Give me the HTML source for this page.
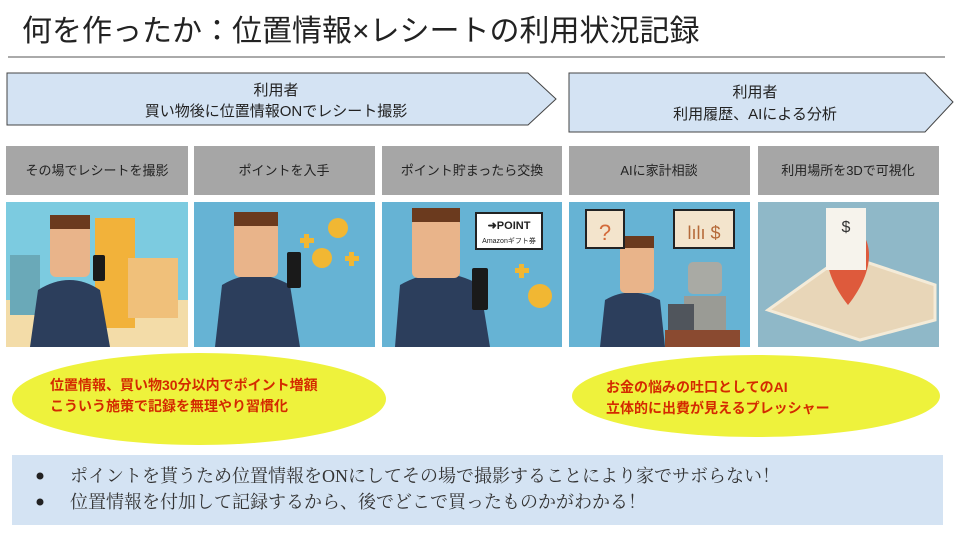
<!DOCTYPE html>
<html><head><meta charset="utf-8"><style>
body{margin:0;width:960px;height:540px;background:#fff;overflow:hidden;font-family:"Liberation Sans","Noto Sans CJK JP",sans-serif;}
</style></head><body>
<svg width="960" height="540" xmlns="http://www.w3.org/2000/svg" font-family="Liberation Sans, Noto Sans CJK JP, sans-serif">
<text x="22" y="41" font-size="30" fill="#222">何を作ったか：位置情報×レシートの利用状況記録</text>
<line x1="8" y1="57" x2="945" y2="57" stroke="#aaa" stroke-width="2"/>
<polygon points="7,73 528,73 556,99 528,125 7,125" fill="#d4e3f3" stroke="#444" stroke-width="1"/>
<text x="276" y="95" font-size="15" text-anchor="middle" fill="#222">利用者</text>
<text x="276" y="116" font-size="15" text-anchor="middle" fill="#222">買い物後に位置情報ONでレシート撮影</text>
<polygon points="569,73 925,73 953,102 925,132 569,132" fill="#d4e3f3" stroke="#444" stroke-width="1"/>
<text x="755" y="97" font-size="15" text-anchor="middle" fill="#222">利用者</text>
<text x="755" y="119" font-size="15" text-anchor="middle" fill="#222">利用履歴、AIによる分析</text>
<g fill="#a6a6a6">
<rect x="6" y="146" width="182" height="49"/><rect x="194" y="146" width="181" height="49"/><rect x="382" y="146" width="180" height="49"/><rect x="569" y="146" width="181" height="49"/><rect x="758" y="146" width="181" height="49"/></g>
<g font-size="13" fill="#222" text-anchor="middle">
<text x="97" y="175">その場でレシートを撮影</text><text x="284" y="175">ポイントを入手</text><text x="472" y="175">ポイント貯まったら交換</text><text x="659" y="175">AIに家計相談</text><text x="848" y="175">利用場所を3Dで可視化</text></g>
<rect x="6" y="202" width="182" height="145" fill="#7ccbe0"/>
<rect x="6" y="300" width="182" height="47" fill="#f3dca8"/>
<rect x="95" y="218" width="40" height="110" fill="#f2b23a"/>
<rect x="128" y="258" width="50" height="60" fill="#f0c07a"/>
<rect x="10" y="255" width="30" height="60" fill="#6aa9b8"/>
<rect x="194" y="202" width="181" height="145" fill="#66b3d4"/>
<rect x="382" y="202" width="180" height="145" fill="#66b3d4"/>
<rect x="569" y="202" width="181" height="145" fill="#66b3d4"/>
<rect x="758" y="202" width="181" height="145" fill="#8fb8c8"/>
<g fill="#2c3e5c">
<path d="M30,347 L38,290 Q70,270 100,290 L110,347Z"/>
<path d="M215,347 L222,285 Q255,265 290,285 L300,347Z"/>
<path d="M395,347 L400,285 Q440,262 480,285 L490,347Z"/>
<path d="M600,347 L605,300 Q630,285 660,300 L665,347Z"/></g>
<g fill="#e9b48a">
<rect x="50" y="225" width="40" height="52" rx="6"/>
<rect x="234" y="222" width="44" height="55" rx="6"/>
<rect x="412" y="218" width="48" height="60" rx="6"/>
<rect x="620" y="245" width="34" height="48" rx="5"/></g>
<g fill="#6b3a1e">
<rect x="50" y="215" width="40" height="14"/><rect x="234" y="212" width="44" height="14"/><rect x="412" y="208" width="48" height="14"/><rect x="620" y="236" width="34" height="12"/></g>
<g fill="#1a1a1a"><rect x="93" y="255" width="12" height="26" rx="2"/><rect x="287" y="252" width="14" height="36" rx="2"/><rect x="472" y="268" width="16" height="42" rx="2"/></g>
<g fill="#f1b733"><circle cx="338" cy="228" r="10"/><circle cx="322" cy="258" r="10"/><circle cx="540" cy="296" r="12"/>
<rect x="300" y="238" width="14" height="5"/><rect x="304" y="234" width="5" height="14"/><rect x="345" y="256" width="14" height="5"/><rect x="349" y="252" width="5" height="14"/><rect x="515" y="268" width="14" height="5"/><rect x="519" y="264" width="5" height="14"/></g>
<rect x="476" y="213" width="66" height="36" fill="#fff" stroke="#222" stroke-width="2"/>
<text x="509" y="229" font-size="11" font-weight="bold" text-anchor="middle" fill="#222">➜POINT</text>
<text x="509" y="243" font-size="7" text-anchor="middle" fill="#222">Amazonギフト券</text>
<rect x="586" y="210" width="38" height="38" fill="#f3e4cc" stroke="#222" stroke-width="2"/><text x="605" y="240" font-size="22" text-anchor="middle" fill="#d36a3a">?</text>
<rect x="674" y="210" width="60" height="38" fill="#f3e4cc" stroke="#222" stroke-width="2"/><text x="704" y="239" font-size="18" text-anchor="middle" fill="#b56a3a">lılı $</text>
<rect x="688" y="262" width="34" height="32" rx="5" fill="#a9aaa4"/><rect x="684" y="296" width="42" height="34" fill="#9a9b95"/>
<rect x="665" y="330" width="75" height="17" fill="#8a4a30"/><rect x="668" y="304" width="26" height="26" fill="#50555c"/>
<polygon points="768,310 845,255 935,285 935,320 860,340" fill="#e8d6b8" stroke="#f4ebd8" stroke-width="3"/>
<path d="M848,305 C820,270 820,235 848,222 C876,235 876,270 848,305Z" fill="#de5a3c"/>
<rect x="826" y="208" width="40" height="62" fill="#f6f3ec"/>
<text x="846" y="232" font-size="16" text-anchor="middle" fill="#333">$</text>
<ellipse cx="199" cy="399" rx="187" ry="46" fill="#eef23c"/>
<text x="50" y="390" font-size="14" font-weight="bold" fill="#d42a00">位置情報、買い物30分以内でポイント増額</text>
<text x="50" y="411" font-size="14" font-weight="bold" fill="#d42a00">こういう施策で記録を無理やり習慣化</text>
<ellipse cx="756" cy="396" rx="184" ry="41" fill="#eef23c"/>
<text x="606" y="392" font-size="14" font-weight="bold" fill="#d42a00">お金の悩みの吐口としてのAI</text>
<text x="606" y="413" font-size="14" font-weight="bold" fill="#d42a00">立体的に出費が見えるプレッシャー</text>
<rect x="12" y="455" width="931" height="70" fill="#d4e3f3"/>
<g font-family="Liberation Serif, Noto Serif CJK SC, serif" font-size="18" fill="#333">
<circle cx="40" cy="476" r="3.5" fill="#222"/><text x="70" y="482">ポイントを貰うため位置情報をONにしてその場で撮影することにより家でサボらない！</text>
<circle cx="40" cy="502" r="3.5" fill="#222"/><text x="70" y="508">位置情報を付加して記録するから、後でどこで買ったものかがわかる！</text></g>
</svg>
</body></html>
